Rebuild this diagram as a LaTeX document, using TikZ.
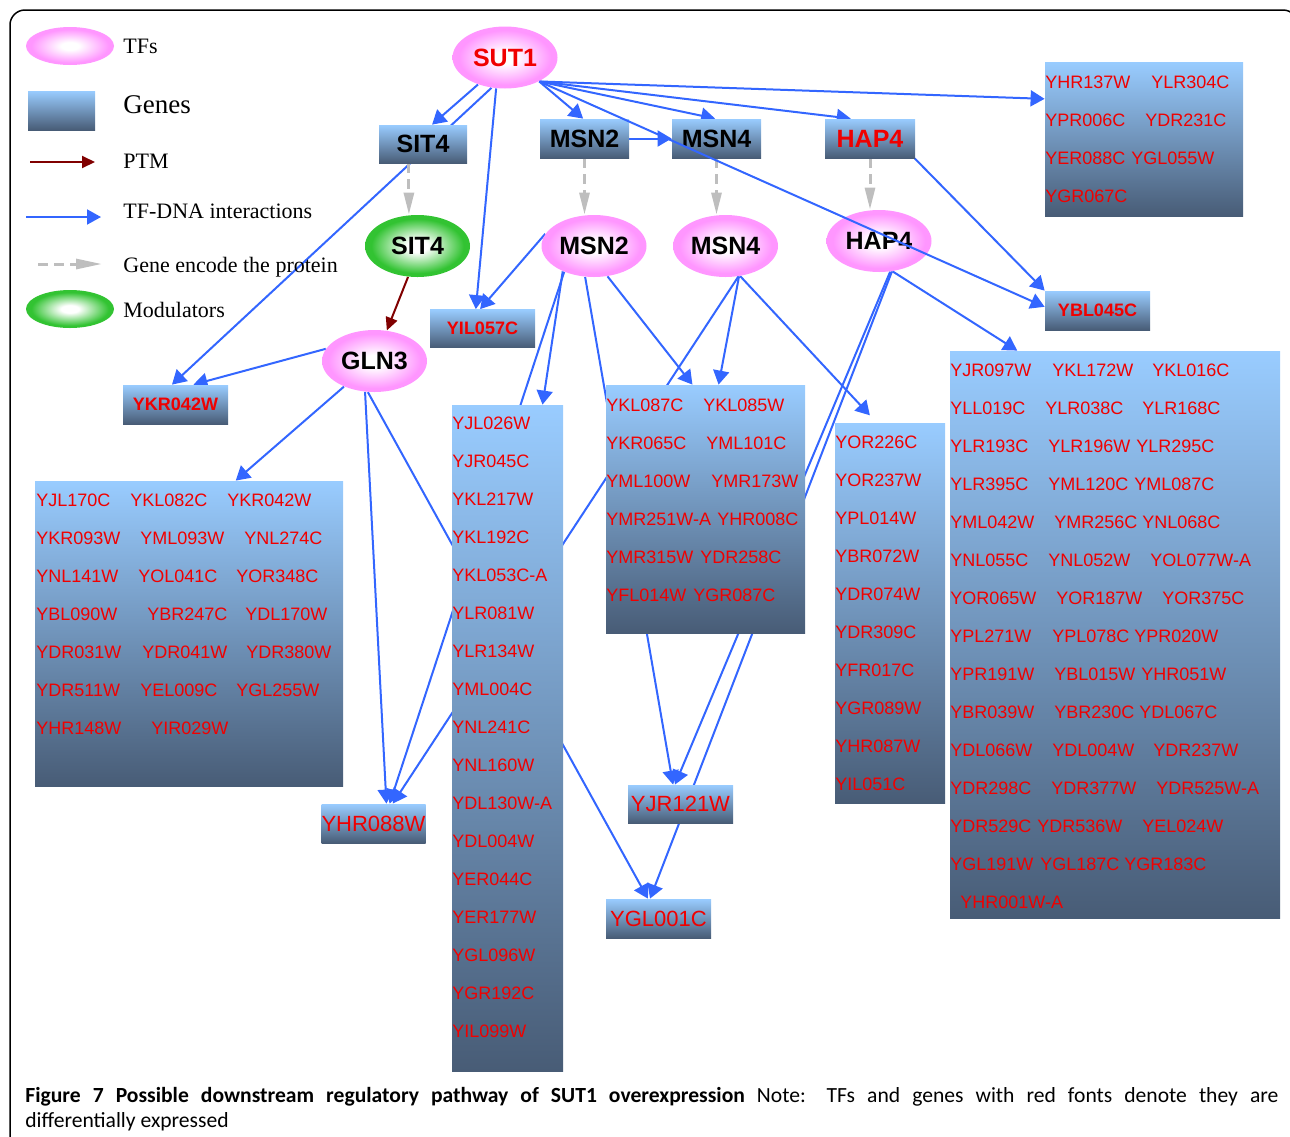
\documentclass[tikz,border=0pt]{standalone}
\usepackage{fontspec}
\setmainfont{Liberation Serif}
\newfontfamily\arial{Liberation Sans}
\newfontfamily\capfont{Carlito}
\usetikzlibrary{arrows.meta,shapes.geometric,backgrounds}

\definecolor{tfpink}{RGB}{255,150,255}
\definecolor{modgreen}{RGB}{50,195,50}
\definecolor{genetop}{RGB}{153,204,255}
\definecolor{genebot}{RGB}{72,92,118}
\definecolor{tfblue}{RGB}{51,102,255}
\definecolor{ptmred}{RGB}{128,0,0}
\definecolor{encgrey}{RGB}{190,190,190}
\definecolor{degred}{RGB}{240,0,0}

\pgfdeclareradialshading{tfshade}{\pgfpointorigin}{color(0bp)=(white); color(5bp)=(white); color(22bp)=(tfpink); color(50bp)=(tfpink)}
\pgfdeclareradialshading{modshade}{\pgfpointorigin}{color(0bp)=(white); color(5bp)=(white); color(22bp)=(modgreen); color(50bp)=(modgreen)}

\tikzset{
  tf/.style={ellipse, shade, shading=tfshade, minimum width=52.5pt, minimum height=31pt, inner sep=0pt, font=\arial\bfseries\fontsize{12.5}{15}\selectfont},
  modulator/.style={tf, shading=modshade},
  genebox/.style={rectangle, shade, top color=genetop, bottom color=genebot, inner sep=0pt},
  tfbox/.style={genebox, minimum width=44.5pt, minimum height=19.5pt, font=\arial\bfseries\fontsize{12.5}{15}\selectfont},
  degbox/.style={genebox, minimum width=52.5pt, minimum height=19.5pt, text=degred, font=\arial\bfseries\fontsize{9}{11}\selectfont},
  bigbox/.style={genebox, minimum width=52.5pt, minimum height=19.5pt, text=degred, font=\arial\fontsize{11}{13}\selectfont},
  genetext/.style={anchor=west, inner sep=0pt, text=degred, font=\arial\fontsize{9}{11}\selectfont},
  legtext/.style={anchor=base west, inner sep=0pt, font=\fontsize{11}{13}\selectfont},
  tfdna/.style={draw=tfblue, line width=1pt, -{Triangle[length=7pt,width=8pt]}},
  ptm/.style={draw=ptmred, line width=1pt, -{Triangle[length=6.5pt,width=6pt]}},
  encode/.style={draw=encgrey, line width=1.5pt, dash pattern=on 5pt off 3pt, -{Triangle[length=11pt,width=5pt]}}
}

\begin{document}
\begin{tikzpicture}[x=0.5pt, y=-0.5pt]
    \useasboundingbox (0,0) rectangle (1290,1136);
    \draw[line width=0.75pt, rounded corners=7.5pt] (10,1150) -- (10,10) -- (1298,10) -- (1298,1150);

    % Legenda
    \node[tf, minimum width=44pt, minimum height=19pt] (legTF) at (70,46) {};
    \node[legtext] (legTFtxt) at (123,53) {TFs};
    \node[genebox, minimum width=33.5pt, minimum height=19.5pt] (legGene) at (61.5,110.5) {};
    \node[legtext, font=\fontsize{13.5}{16}\selectfont] (legGenetxt) at (123,113) {Genes};
    \coordinate (ptmA) at (30,162);
    \coordinate (ptmB) at (95,162);
    \draw[ptm] (ptmA) -- (ptmB);
    \node[legtext] (legPTMtxt) at (123,168) {PTM};
    \coordinate (dnaA) at (26,217);
    \coordinate (dnaB) at (101,217);
    \draw[tfdna, -{Triangle[length=7pt,width=7.5pt]}] (dnaA) -- (dnaB);
    \node[legtext] (legDNAtxt) at (123,218) {TF-DNA interactions};
    \coordinate (encA) at (38,264);
    \coordinate (encB) at (102,264);
    \draw[encode, -{Triangle[length=13pt,width=5pt]}] (encA) -- (encB);
    \node[legtext] (legEnctxt) at (123,272) {Gene encode the protein};
    \node[modulator, minimum width=44pt, minimum height=19pt] (legMod) at (70,309) {};
    \node[legtext] (legModtxt) at (123,317) {Modulators};

    % Fattori di trascrizione
    \node[tf, text=degred] (SUT1) at (505,57.5) {SUT1};
    \node[modulator] (SIT4e) at (417.5,246) {SIT4};
    \node[tf] (MSN2e) at (594,246) {MSN2};
    \node[tf] (MSN4e) at (725.5,246) {MSN4};
    \node[tf] (HAP4e) at (879,241) {HAP4};
    \node[tf] (GLN3e) at (374.5,361) {GLN3};

    % Geni dei TF
    \node[tfbox, minimum width=44pt, minimum height=19pt] (SIT4b) at (423,144) {SIT4};
    \node[tfbox] (MSN2b) at (584.5,138.5) {MSN2};
    \node[tfbox] (MSN4b) at (716.5,138.5) {MSN4};
    \node[tfbox, minimum width=45pt, text=degred] (HAP4b) at (870,138.5) {HAP4};

    % Geni singoli
    \node[degbox, minimum height=19pt] (YIL057C) at (482.5,328.5) {YIL057C};
    \node[degbox] (YBL045C) at (1097.5,310.5) {YBL045C};
    \node[degbox] (YKR042W) at (175.5,404.5) {YKR042W};
    \node[bigbox, minimum width=52pt] (YHR088W) at (373.5,823.5) {YHR088W};
    \node[bigbox, minimum height=19pt] (YJR121W) at (680.5,804) {YJR121W};
    \node[bigbox] (YGL001C) at (658.5,918.5) {YGL001C};

    % Gruppi di geni
    \node[genebox, minimum width=99pt, minimum height=77pt] (sut1list) at (1144,139) {};
    \node[genebox, minimum width=154pt, minimum height=152.5pt] (gln3list) at (189,633.5) {};
    \node[genebox, minimum width=55.5pt, minimum height=333pt] (msn2list) at (507.5,738) {};
    \node[genebox, minimum width=99.5pt, minimum height=124pt] (shared) at (705.5,509) {};
    \node[genebox, minimum width=55pt, minimum height=190pt] (msn4list) at (890,613) {};
    \node[genebox, minimum width=165pt, minimum height=283.5pt] (hap4list) at (1115,634.5) {};

    \foreach \gx/\gy/\g [count=\i] in {1045/82/YHR137W, 1151/82/YLR304C, 1045/120/YPR006C, 1145/120/YDR231C,
        1045/158/YER088C, 1131/158/YGL055W, 1045/196/YGR067C}
        \node[genetext] (sg\i) at (\gx,\gy) {\g};
    \foreach \gx/\gy/\g [count=\i] in {36/500/YJL170C, 130/500/YKL082C, 227/500/YKR042W,
        36/538/YKR093W, 140/538/YML093W, 244/538/YNL274C, 36/576/YNL141W, 138/576/YOL041C, 236/576/YOR348C,
        36/614/YBL090W, 147/614/YBR247C, 245/614/YDL170W, 36/652/YDR031W, 142/652/YDR041W, 246/652/YDR380W,
        36/690/YDR511W, 140/690/YEL009C, 236/690/YGL255W, 36/728/YHR148W, 151/728/YIR029W}
        \node[genetext] (gg\i) at (\gx,\gy) {\g};
    \foreach \g [count=\i from 0] in {YJL026W, YJR045C, YKL217W, YKL192C, YKL053C-A, YLR081W, YLR134W,
        YML004C, YNL241C, YNL160W, YDL130W-A, YDL004W, YER044C, YER177W, YGL096W, YGR192C, YIL099W}
        \node[genetext] (m2g\i) at (452,423+38*\i) {\g};
    \foreach \gx/\gy/\g [count=\i] in {606/405/YKL087C, 703/405/YKL085W, 606/443/YKR065C, 706/443/YML101C,
        606/481/YML100W, 711/481/YMR173W, 606/519/YMR251W-A, 717/519/YHR008C,
        606/557/YMR315W, 700/557/YDR258C, 606/595/YFL014W, 693/595/YGR087C}
        \node[genetext] (shg\i) at (\gx,\gy) {\g};
    \foreach \g [count=\i from 0] in {YOR226C, YOR237W, YPL014W, YBR072W, YDR074W, YDR309C, YFR017C,
        YGR089W, YHR087W, YIL051C}
        \node[genetext] (m4g\i) at (835,442+38*\i) {\g};
    \foreach \gx/\gy/\g [count=\i] in {950/370/YJR097W, 1052/370/YKL172W, 1152/370/YKL016C,
        950/408/YLL019C, 1045/408/YLR038C, 1142/408/YLR168C, 950/446/YLR193C, 1048/446/YLR196W, 1136/446/YLR295C,
        950/484/YLR395C, 1048/484/YML120C, 1134/484/YML087C, 950/522/YML042W, 1054/522/YMR256C, 1142/522/YNL068C,
        950/560/YNL055C, 1048/560/YNL052W, 1150/560/YOL077W-A, 950/598/YOR065W, 1056/598/YOR187W, 1162/598/YOR375C,
        950/636/YPL271W, 1052/636/YPL078C, 1134/636/YPR020W, 950/674/YPR191W, 1054/674/YBL015W, 1141/674/YHR051W,
        950/712/YBR039W, 1054/712/YBR230C, 1139/712/YDL067C, 950/750/YDL066W, 1052/750/YDL004W, 1153/750/YDR237W,
        950/788/YDR298C, 1051/788/YDR377W, 1156/788/YDR525W-A, 950/826/YDR529C, 1037/826/YDR536W, 1142/826/YEL024W,
        950/864/YGL191W, 1040/864/YGL187C, 1124/864/YGR183C, 960/902/YHR001W-A}
        \node[genetext] (hg\i) at (\gx,\gy) {\g};

    % Interazioni (sotto i nodi)
    \begin{scope}[on background layer]
        \draw[tfdna] (SUT1.-135) -- (SIT4b.65);
        \draw[tfdna] (SUT1.-114) -- (YKR042W.100);
        \draw[tfdna] (SUT1.-106) -- (YIL057C.109);
        \draw[tfdna] (SUT1.-35) -- (MSN2b.94);
        \draw[tfdna] (SUT1.-35) -- (MSN4b.94);
        \draw[tfdna] (SUT1.-35) -- (HAP4b.134);
        \draw[tfdna] (SUT1.-35) -- (sut1list.158);
        \draw[tfdna] (MSN2b.east) -- (MSN4b.west);
        \draw[encode] (SIT4b.-126) -- (SIT4b.-126 |- SIT4e.north);
        \draw[encode] (MSN2b.south) -- (MSN2b.south |- MSN2e.north);
        \draw[encode] (MSN4b.south) -- (MSN4b.south |- MSN4e.north);
        \draw[encode] (HAP4b.south) -- (HAP4b.south |- HAP4e.north);
        \draw[ptm] (SIT4e.-107) -- (GLN3e.68);
        \draw[tfdna] (GLN3e.166) -- (YKR042W.48);
        \draw[tfdna] (GLN3e.-140) -- (gln3list.73);
        \draw[tfdna] (GLN3e.-107) -- (YHR088W.57);
        \draw[tfdna] (GLN3e.-102) -- (YGL001C.118);
        \draw[tfdna] (MSN2e.166) -- (YIL057C.97);
        \draw[tfdna] (MSN2e.-141) -- (msn2list.84);
        \draw[tfdna] (MSN2e.-139) -- (YHR088W.51);
        \draw[tfdna] (MSN2e.-106) -- (YJR121W.111);
        \draw[tfdna] (MSN2e.-66) -- (shared.96);
        \draw[tfdna] (MSN4e.-66) -- (shared.84);
        \draw[tfdna] (MSN4e.-67) -- (YHR088W.46);
        \draw[tfdna, shorten >=5pt] (MSN4e.-64) -- (msn4list.94);
        \draw[tfdna] (HAP4e.-70) -- (YJR121W.106);
        \draw[tfdna] (HAP4e.-67) -- (YGL001C.113);
        \draw[tfdna] (HAP4e.-66) -- (hap4list.109);
        \draw[tfdna] (HAP4b.-24) -- (YBL045C.north west);
    \end{scope}
    \draw[tfdna] (SUT1.-35) -- (YBL045C.176);

    % Didascalia
    \node[anchor=base west, inner sep=0pt, font=\capfont\fontsize{10.8}{12.5}\selectfont] (cap1) at (25,1102)
        {\makebox[626.5pt][s]{\bfseries Figure 7 Possible downstream regulatory pathway of SUT1 overexpression\mdseries\ Note: TFs and genes with red fonts denote they are}};
    \node[anchor=base west, inner sep=0pt, font=\capfont\fontsize{10.8}{12.5}\selectfont] (cap2) at (25,1127) {differentially expressed};
\end{tikzpicture}
\end{document}
